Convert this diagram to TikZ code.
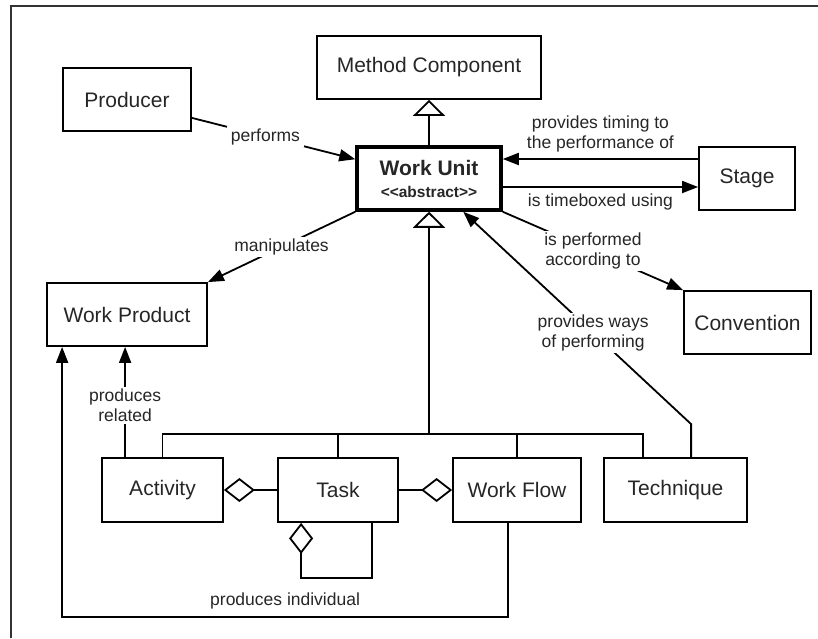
\documentclass[tikz,border=0pt]{standalone}
\usepackage{fontspec}
\setmainfont{Liberation Sans}
\usetikzlibrary{arrows.meta,calc}
\begin{document}
\begin{tikzpicture}[x=1pt,y=-1pt,
  box/.style={draw, line width=1.8pt, minimum height=63pt, inner sep=0pt,
    text=black!85, font=\fontsize{21}{25}\selectfont},
  wubox/.style={box, line width=3.5pt, align=center, font=\fontsize{21}{22}\selectfont},
  conn/.style={line width=1.8pt},
  nav/.style={conn, -{Triangle[length=16pt,width=12pt]}},
  gen/.style={conn, -{Triangle[open,length=16pt,width=32pt]}},
  agg/.style={conn, -{Diamond[open,length=31pt,width=24pt]}},
  lbl/.style={font=\fontsize{17.5}{20}\selectfont, align=center, inner sep=1pt, text=black!85},
  cut/.style={lbl, fill=white, inner xsep=4pt, inner ysep=2pt},
  frame/.style={line width=1.3pt, black!80}]
\useasboundingbox (0,0) rectangle (818,638);
\draw[frame] (11,638) -- (11,6) -- (818,6);

% classes
\node[box, minimum width=224pt] (mc) at (429,67.5) {Method Component};
\node[box, minimum width=128pt] (prod) at (127,99.5) {Producer};
\node[wubox, minimum width=144pt] (wu) at (429,178.5)
  {\bfseries Work Unit\\{\fontsize{15.5}{17}\selectfont\bfseries <{}<abstract>{}>}};
\node[box, minimum width=96pt] (stage) at (747,178.5) {Stage};
\node[box, minimum width=160pt] (wp) at (127,314.5) {Work Product};
\node[box, minimum width=127pt] (conv) at (747.5,322.5) {Convention};
\node[box, minimum width=121pt, minimum height=64pt] (act) at (162.5,490) {Activity};
\node[box, minimum width=120pt, minimum height=64pt] (task) at (338,490) {Task};
\node[box, minimum width=128pt, minimum height=64pt] (wf) at (517,490) {Work Flow};
\node[box, minimum width=143pt, minimum height=64pt] (tech) at (675.5,490) {Technique};

% helper points
\coordinate (t1) at (0,159);
\coordinate (t2) at (0,187);
\coordinate (bar) at (429,434);
\coordinate (pi) at (0,617);
\coordinate (wfo) at ($(wf.south west)+(56,0)$);
\coordinate (wpi) at ($(wp.south west)+(16,0)$);
\coordinate (tsa) at ($(task.south west)+(95,0)$);
\coordinate (tsb) at ($(task.south west)+(24,0)$);
\coordinate (techg) at ($(tech.north west)+(40,0)$);
\coordinate (techw) at ($(tech.north west)+(88,0)$);

% generalisation
\draw[gen] (wu.north) -- (mc.south);
\draw[gen] (bar) -- (wu.south);
\draw[conn] (act.north) |- (bar);
\draw[conn] (task.north) |- (bar);
\draw[conn] (wf.north) |- (bar);
\draw[conn] (techg) |- (bar);

% associations
\draw[nav] ($(prod.south east)+(0,-14)$) -- node[cut, pos=0.45]{performs}
  ($(wu.north west)+(0,14)$);
\draw[nav] (stage.west |- t1) -- node[lbl, above=5pt]{provides timing to\\the performance of}
  (wu.east |- t1);
\draw[nav] (wu.east |- t2) -- node[lbl, below=5pt]{is timeboxed using} (stage.west |- t2);
\draw[nav] (wu.south east) -- node[cut]{is performed\\according to} (conv.north west);
\draw[nav] (wu.south west) -- node[cut]{manipulates} (wp.north east);
\draw[nav] (techw) -- ++(0,-33) -- node[cut, pos=0.43]{provides ways\\of performing}
  ($(wu.south west)+(108,0)$);
\draw[nav] ($(act.north west)+(24,0)$) -- node[cut, pos=0.47]{produces\\related}
  ($(wp.south west)+(79,0)$);
\draw[nav] (wfo) -- (wfo |- pi) -- node[lbl, above=6pt]{produces individual} (wpi |- pi) -- (wpi);

% aggregation
\draw[agg] (task.west) -- (act.east);
\draw[agg] (task.east) -- (wf.west);
\draw[agg] (tsa) -- ++(0,55) -| (tsb);
\end{tikzpicture}
\end{document}
